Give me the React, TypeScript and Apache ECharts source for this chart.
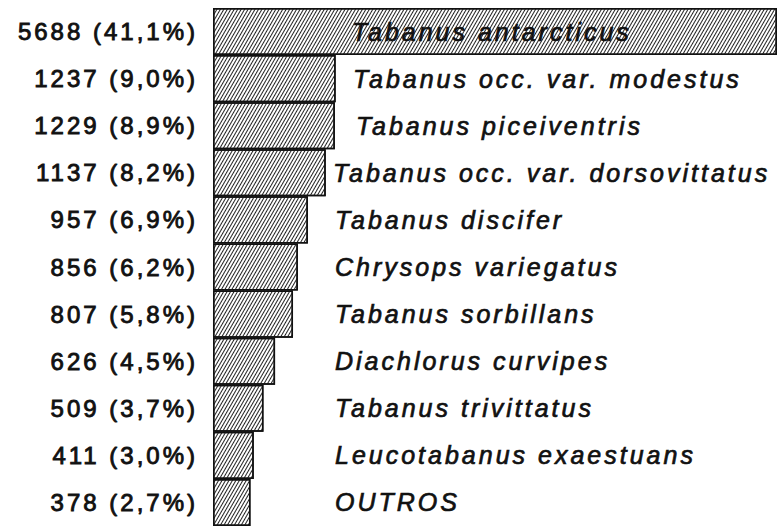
import React, { useEffect, useRef } from 'react';
import * as echarts from 'echarts';

const names = [
  'Tabanus antarcticus',
  'Tabanus occ. var. modestus',
  'Tabanus piceiventris',
  'Tabanus occ. var. dorsovittatus',
  'Tabanus discifer',
  'Chrysops variegatus',
  'Tabanus sorbillans',
  'Diachlorus curvipes',
  'Tabanus trivittatus',
  'Leucotabanus exaestuans',
  'OUTROS',
];
const counts = [5688, 1237, 1229, 1137, 957, 856, 807, 626, 509, 411, 378];
const percents = ['41,1%', '9,0%', '8,9%', '8,2%', '6,9%', '6,2%', '5,8%', '4,5%', '3,7%', '3,0%', '2,7%'];

// layout: left x (px) where each species name starts
const nameX = [352, 353, 356, 333, 335, 335, 335, 335, 335, 335, 335];

const leftLabels = counts.map((c, i) => `${c} (${percents[i]})`);
const FONT = '"Liberation Sans", Arial, Helvetica, sans-serif';

export default function App() {
  const ref = useRef<HTMLDivElement>(null);
  useEffect(() => {
    const chart = echarts.init(ref.current!, null, { renderer: 'svg' });
    const barLeft = 213;
    chart.setOption({
      animation: false,
      grid: { left: barLeft, right: 3, top: 8, height: 520 },
      xAxis: { type: 'value', min: 0, max: Math.max(...counts), show: false },
      yAxis: {
        type: 'category',
        inverse: true,
        data: leftLabels,
        axisLine: { show: false },
        axisTick: { show: false },
        splitLine: { show: false },
        axisLabel: {
          margin: 15,
          fontSize: 24,
          color: '#111',
          fontFamily: FONT,
          textBorderColor: '#111',
          textBorderWidth: 0.9,
        },
      },
      series: [
        {
          type: 'bar',
          barCategoryGap: 0,
          data: counts.map((v, i) => ({
            value: v,
            label: { position: [nameX[i] - barLeft, '50%'] },
          })),
          itemStyle: {
            color: '#fff',
            borderColor: '#111',
            borderWidth: 1.5,
            decal: {
              symbol: 'rect',
              symbolSize: 1,
              dashArrayX: [1, 0],
              dashArrayY: [1, 2],
              rotation: -Math.PI / 3,
              color: '#222',
            },
          },
          label: {
            show: true,
            formatter: (p: any) => names[p.dataIndex],
            fontSize: 25,
            fontStyle: 'italic',
            fontFamily: FONT,
            color: '#111',
            align: 'left',
            verticalAlign: 'middle',
            textBorderColor: '#111',
            textBorderWidth: 0.7,
          },
        },
      ],
    });
    return () => chart.dispose();
  }, []);
  return (
    <>
      <style>{`.chartbox text{letter-spacing:3px}`}</style>
      <div
        ref={ref}
        className="chartbox"
        style={{ position: 'fixed', left: 0, top: 0, width: 780, height: 526, background: '#fff' }}
      />
    </>
  );
}
